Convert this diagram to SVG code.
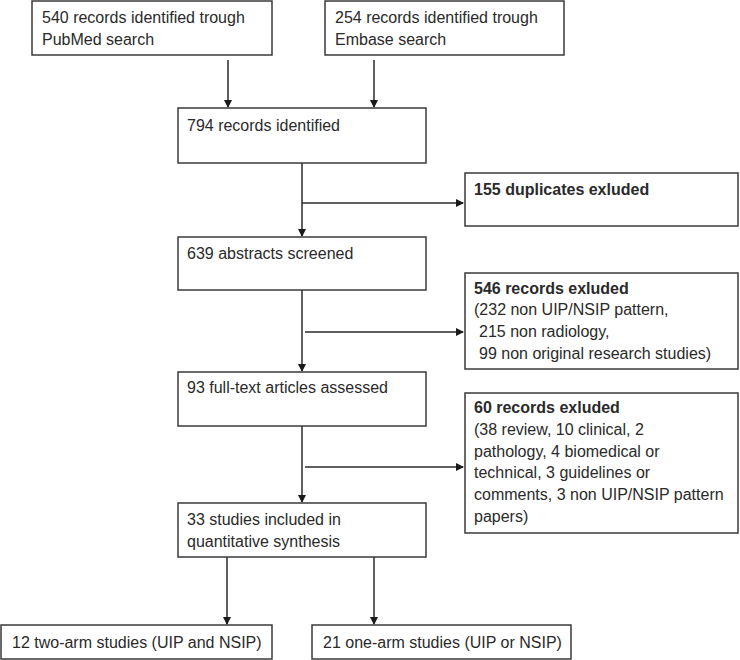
<svg xmlns="http://www.w3.org/2000/svg" width="740" height="660" viewBox="0 0 740 660">
<style>
.box{fill:#fff;stroke:#3a3a3a;stroke-width:1.5}
.t{font-family:"Liberation Sans",Arial,sans-serif;font-size:16px;fill:#2a2a2a}
.b{font-weight:bold}
.c{fill:none;stroke:#2a2a2a;stroke-width:1.5}
</style>
<defs>
<marker id="ah" markerWidth="8" markerHeight="8" refX="7" refY="4" orient="auto" markerUnits="userSpaceOnUse">
<path d="M0,0 L8,4 L0,8 Z" fill="#1a1a1a"/>
</marker>
</defs>
<rect width="740" height="660" fill="#fff"/>
<g id="connectors">
<line class="c" x1="228" y1="60" x2="228" y2="107" marker-end="url(#ah)"/>
<line class="c" x1="374" y1="60" x2="374" y2="107" marker-end="url(#ah)"/>
<line class="c" x1="302" y1="163" x2="302" y2="236" marker-end="url(#ah)"/>
<line class="c" x1="302" y1="203" x2="463" y2="203" marker-end="url(#ah)"/>
<line class="c" x1="302" y1="290" x2="302" y2="371" marker-end="url(#ah)"/>
<line class="c" x1="305" y1="332" x2="463" y2="332" marker-end="url(#ah)"/>
<line class="c" x1="302" y1="426" x2="302" y2="502" marker-end="url(#ah)"/>
<line class="c" x1="305" y1="467" x2="463" y2="467" marker-end="url(#ah)"/>
<line class="c" x1="227" y1="557" x2="227" y2="624" marker-end="url(#ah)"/>
<line class="c" x1="374" y1="557" x2="374" y2="624" marker-end="url(#ah)"/>
</g>
<g id="pubmed">
<rect class="box" x="32" y="1" width="240" height="54"/>
<text class="t" x="42" y="23">540 records identified trough</text>
<text class="t" x="42" y="45">PubMed search</text>
</g>
<g id="embase">
<rect class="box" x="325" y="1" width="239" height="54"/>
<text class="t" x="335" y="23">254 records identified trough</text>
<text class="t" x="335" y="45">Embase search</text>
</g>
<g id="identified">
<rect class="box" x="178" y="108" width="248" height="55"/>
<text class="t" x="187" y="131">794 records identified</text>
</g>
<g id="duplicates">
<rect class="box" x="465" y="173" width="273" height="53"/>
<text class="t b" x="474" y="195">155 duplicates exluded</text>
</g>
<g id="screened">
<rect class="box" x="178" y="237" width="248" height="53"/>
<text class="t" x="187" y="259">639 abstracts screened</text>
</g>
<g id="excluded546">
<rect class="box" x="465" y="273" width="273" height="96"/>
<text class="t b" x="474" y="294">546 records exluded</text>
<text class="t" x="474" y="315">(232 non UIP/NSIP pattern,</text>
<text class="t" x="474" y="337"> <tspan x="479">215 non radiology,</tspan></text>
<text class="t" x="479" y="359">99 non original research studies)</text>
</g>
<g id="fulltext">
<rect class="box" x="178" y="372" width="248" height="54"/>
<text class="t" x="187" y="393">93 full-text articles assessed</text>
</g>
<g id="excluded60">
<rect class="box" x="465" y="393" width="273" height="140"/>
<text class="t b" x="474" y="413">60 records exluded</text>
<text class="t" x="474" y="435">(38 review, 10 clinical, 2</text>
<text class="t" x="474" y="457">pathology, 4 biomedical or</text>
<text class="t" x="474" y="478">technical, 3 guidelines or</text>
<text class="t" x="474" y="500">comments, 3 non UIP/NSIP pattern</text>
<text class="t" x="474" y="522">papers)</text>
</g>
<g id="included">
<rect class="box" x="178" y="503" width="248" height="54"/>
<text class="t" x="187" y="525">33 studies included in</text>
<text class="t" x="187" y="547">quantitative synthesis</text>
</g>
<g id="twoarm">
<rect class="box" x="1" y="625" width="271" height="34"/>
<text class="t" x="12" y="648">12 two-arm studies (UIP and NSIP)</text>
</g>
<g id="onearm">
<rect class="box" x="312" y="625" width="259" height="34"/>
<text class="t" x="323" y="648">21 one-arm studies (UIP or NSIP)</text>
</g>
</svg>
